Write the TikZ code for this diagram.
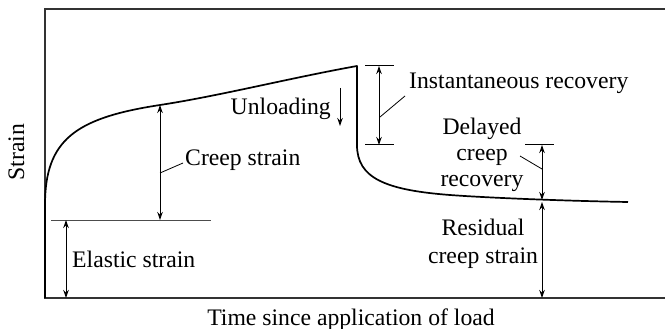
\documentclass[tikz,border=0pt]{standalone}
\usepackage{fontspec}
\setmainfont{Liberation Serif}
\usetikzlibrary{arrows.meta}
\begin{document}
\begin{tikzpicture}[x=1pt,y=-1pt,
  txt/.style={inner sep=0pt, font=\fontsize{23.7}{26}\selectfont},
  frameline/.style={draw=black!80, line width=1.2pt},
  curveline/.style={line width=1.7pt, line join=round},
  tip/.tip={Stealth[length=8pt,width=5.5pt]},
  dim/.style={line width=1pt, tip-tip},
  dimone/.style={line width=1pt, -tip},
  leader/.style={line width=0.8pt},
  tickline/.style={line width=1pt},
  baseline/.style={draw=black!70, line width=1pt}]
\useasboundingbox (0,0) rectangle (665,329);

% axes frame (open on the right)
\draw[frameline] (665,9) -- (45,9) -- (45,298) -- (665,298);

% creep and recovery curve
\draw[curveline] (45,298) -- (45,205)
  .. controls (45,140) and (75,118) .. (160,105)
  .. controls (220,95.8) and (290,78) .. (357,66)
  -- (357,145)
  .. controls (357,178) and (385,190) .. (450,195)
  .. controls (490,198) and (570,201) .. (628,202);

% elastic strain level
\coordinate (elL) at (51,220);
\coordinate (elR) at (211,220);
\draw[baseline] (elL) -- (elR);

% elastic strain
\coordinate (elTop) at (66,220);
\coordinate (elBot) at (66,298);
\draw[dim] (elTop) -- (elBot);
\node[txt, anchor=base west] (elastic) at (72,267) {Elastic strain};

% creep strain
\coordinate (crTop) at (160,105);
\coordinate (crBot) at (160,220);
\draw[dim] (crTop) -- (crBot);
\node[txt, anchor=base west] (creep) at (185,165) {Creep strain};
\coordinate (crLa) at (160,173);
\coordinate (crLb) at (183,163);
\draw[leader] (crLa) -- (crLb);

% unloading
\node[txt, anchor=base east] (unload) at (331,114) {Unloading};
\coordinate (unA) at (340,88);
\coordinate (unB) at (340,126);
\draw[dimone] (unA) -- (unB);

% instantaneous recovery
\coordinate (inT1) at (365,66);
\coordinate (inT2) at (394,66);
\coordinate (inB1) at (365,145);
\coordinate (inB2) at (394,145);
\draw[tickline] (inT1) -- (inT2);
\draw[tickline] (inB1) -- (inB2);
\coordinate (inTop) at (379,66);
\coordinate (inBot) at (379,145);
\draw[dim] (inTop) -- (inBot);
\node[txt, anchor=base west] (inst) at (409,89) {Instantaneous recovery};
\coordinate (inLa) at (380,117);
\coordinate (inLb) at (405,96);
\draw[leader] (inLa) -- (inLb);

% delayed creep recovery
\coordinate (dlT1) at (525,145);
\coordinate (dlT2) at (554,145);
\draw[tickline] (dlT1) -- (dlT2);
\coordinate (dlTop) at (542,145);
\coordinate (dlBot) at (542,200);
\draw[dim] (dlTop) -- (dlBot);
\node[txt, align=center, anchor=base] (delayed) at (482,186) {Delayed\\creep\\recovery};
\coordinate (dlLa) at (542,169);
\coordinate (dlLb) at (520,156);
\draw[leader] (dlLa) -- (dlLb);

% residual creep strain
\coordinate (rsTop) at (542,202);
\coordinate (rsBot) at (542,298);
\draw[dim] (rsTop) -- (rsBot);
\node[txt, align=center, anchor=base, font=\fontsize{23.7}{28}\selectfont] (resid) at (483,263) {Residual\\creep strain};

% axis labels
\node[txt, anchor=base] (xlab) at (351,325) {Time since application of load};
\node[txt, anchor=base, rotate=90] (ylab) at (24,152) {Strain};
\end{tikzpicture}
\end{document}
